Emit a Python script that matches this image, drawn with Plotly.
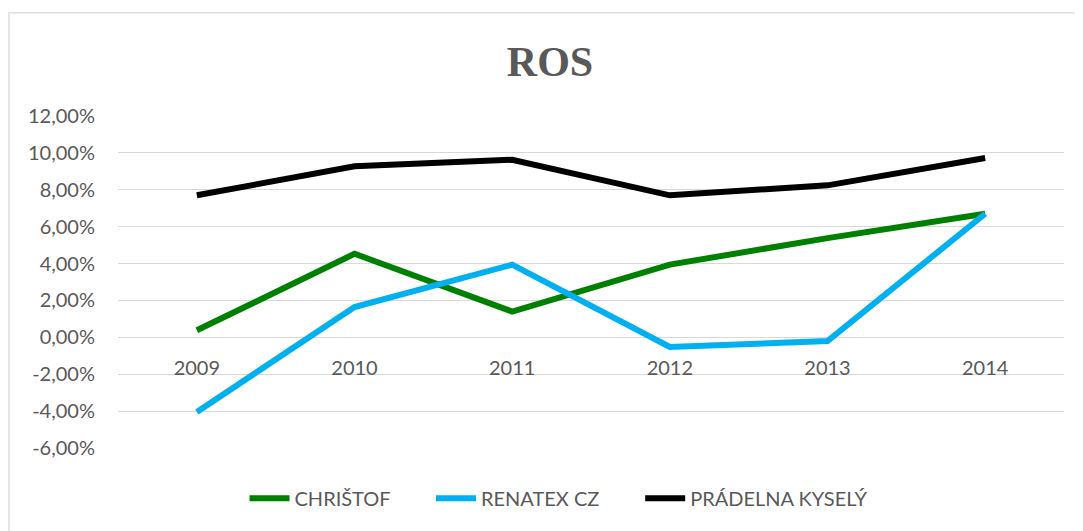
import plotly.graph_objects as go

years = ["2009", "2010", "2011", "2012", "2013", "2014"]
christof = [0.0038, 0.0453, 0.0140, 0.0394, 0.0538, 0.0670]
renatex = [-0.0405, 0.0164, 0.0394, -0.0052, -0.0020, 0.0670]
pradelna = [0.0770, 0.0927, 0.0963, 0.0770, 0.0824, 0.0972]

series_names = ["CHRIŠTOF", "RENATEX CZ", "PRÁDELNA KYSELÝ"]
series_values = [christof, renatex, pradelna]
series_colors = ["#008000", "#00B0F0", "#000000"]

y_ticks = [-0.06, -0.04, -0.02, 0.0, 0.02, 0.04, 0.06, 0.08, 0.10, 0.12]
y_tick_labels = [f"{v*100:.2f}%".replace(".", ",") for v in y_ticks]

fig = go.Figure()
for i, (name, vals, col) in enumerate(zip(series_names, series_values, series_colors)):
    pad = "\u00a0" * 7 if i < len(series_names) - 1 else ""
    fig.add_trace(go.Scatter(
        x=years, y=vals, name=name + pad, mode="lines",
        line=dict(color=col, width=6),
    ))

font_family = "Lato, 'Open Sans', sans-serif"
tick_color = "#595959"

# page body has an 8px margin, so the figure is 8px smaller than the window
W, H = 1075, 523
plot_l, plot_r, plot_t, plot_b = 110, 1056, 108, 439.7
plot_w, plot_h = plot_r - plot_l, plot_b - plot_t

fig.update_layout(
    width=W, height=H,
    margin=dict(l=plot_l, r=W - plot_r, t=plot_t, b=H - plot_b),
    paper_bgcolor="white", plot_bgcolor="white",
    title=dict(text="<b>ROS</b>", x=542 / W, xref="container", xanchor="center",
               y=1 - 53 / H, yref="container", yanchor="middle",
               font=dict(family="'Liberation Serif', 'Times New Roman', serif", size=42, color="#595959")),
    font=dict(family=font_family, size=20, color=tick_color),
    showlegend=True,
    legend=dict(orientation="h", x=(551 - plot_l) / plot_w, xanchor="center", y=(plot_b - 490) / plot_h, yanchor="middle",
                font=dict(family=font_family, size=20, color=tick_color),
                itemwidth=40, tracegroupgap=0, traceorder="normal"),
    xaxis=dict(
        type="category", range=[-0.5, 5.5],
        anchor="free", position=(0 - (-0.06)) / 0.18,
        showline=False, showgrid=False, zeroline=False,
        ticks="outside", ticklen=13, tickcolor="rgba(0,0,0,0)",
        tickfont=dict(family=font_family, size=20, color=tick_color),
        fixedrange=True,
    ),
    yaxis=dict(
        range=[-0.06, 0.12], tickvals=y_ticks, ticktext=y_tick_labels,
        showgrid=True, gridcolor="#D9D9D9", gridwidth=1.3,
        zeroline=False, showline=False, ticks="",
        ticklabelstandoff=22,
        tickfont=dict(family=font_family, size=20, color=tick_color),
        fixedrange=True,
    ),
    shapes=[dict(type="rect", xref="paper", yref="paper",
                 x0=(1 - plot_l) / plot_w, x1=(1073 - plot_l) / plot_w,
                 y0=-0.4, y1=(plot_b - 5) / plot_h,
                 line=dict(color="#D9D9D9", width=1.3), fillcolor="rgba(0,0,0,0)", layer="below")],
)

fig.write_html("out.html")
